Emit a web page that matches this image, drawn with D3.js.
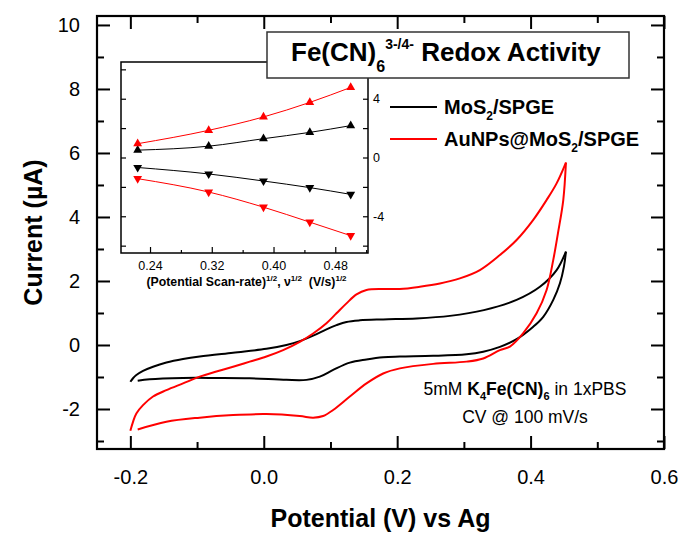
<!DOCTYPE html>
<html>
<head>
<meta charset="utf-8">
<script src="https://cdn.jsdelivr.net/npm/d3@7"></script>
<style>
  body { margin: 0; background: #fff; }
  text { font-family: "Liberation Sans", Arial, sans-serif; }
</style>
</head>
<body>
<svg id="cvChart" width="680" height="534"></svg>
<script>
// CV loops, [potential V, current uA]
const mosForward = [[-0.200,-1.15],[-0.196,-1.04],[-0.191,-0.94],[-0.181,-0.81],[-0.166,-0.68],[-0.146,-0.55],[-0.121,-0.44],[-0.096,-0.36],[-0.046,-0.24],[0.004,-0.12],[0.034,0.0],[0.054,0.12],[0.074,0.29],[0.094,0.49],[0.109,0.62],[0.124,0.72],[0.144,0.77],[0.179,0.80],[0.229,0.83],[0.279,0.91],[0.330,1.09],[0.379,1.41],[0.414,1.82],[0.439,2.34],[0.453,2.92]];
const mosReverse = [[0.453,2.92],[0.450,2.45],[0.444,1.93],[0.434,1.41],[0.419,0.88],[0.404,0.57],[0.379,0.18],[0.354,-0.06],[0.329,-0.21],[0.304,-0.29],[0.254,-0.34],[0.204,-0.36],[0.179,-0.38],[0.154,-0.45],[0.129,-0.55],[0.104,-0.78],[0.084,-0.99],[0.064,-1.09],[0.034,-1.09],[-0.021,-1.04],[-0.071,-1.03],[-0.121,-1.03],[-0.171,-1.07],[-0.189,-1.12]];
const auForward = [[-0.200,-2.68],[-0.196,-2.40],[-0.191,-2.14],[-0.181,-1.88],[-0.166,-1.61],[-0.146,-1.41],[-0.121,-1.20],[-0.096,-0.99],[-0.071,-0.83],[-0.046,-0.68],[-0.021,-0.52],[0.004,-0.36],[0.029,-0.16],[0.054,0.10],[0.074,0.36],[0.094,0.68],[0.109,0.99],[0.124,1.30],[0.139,1.58],[0.154,1.72],[0.179,1.75],[0.204,1.75],[0.234,1.82],[0.264,1.92],[0.294,2.08],[0.324,2.34],[0.354,2.81],[0.379,3.28],[0.404,3.91],[0.424,4.53],[0.439,5.05],[0.453,5.70]];
const auReverse = [[0.453,5.70],[0.449,4.53],[0.441,3.49],[0.434,2.66],[0.424,1.72],[0.409,0.99],[0.389,0.37],[0.369,-0.05],[0.354,-0.16],[0.329,-0.42],[0.304,-0.52],[0.254,-0.59],[0.204,-0.73],[0.179,-0.89],[0.154,-1.20],[0.129,-1.61],[0.104,-2.03],[0.089,-2.22],[0.074,-2.27],[0.054,-2.22],[0.004,-2.16],[-0.046,-2.19],[-0.096,-2.27],[-0.146,-2.40],[-0.189,-2.64]];

// inset: peak current vs sqrt(scan rate)
const sqrtScanRate = [0.224, 0.316, 0.387, 0.447, 0.500];
const mosAnodic = [0.50, 0.77, 1.28, 1.71, 2.17];
const mosCathodic = [-0.68, -1.12, -1.60, -2.05, -2.51];
const auAnodic = [0.94, 1.85, 2.76, 3.75, 4.77];
const auCathodic = [-1.44, -2.35, -3.38, -4.40, -5.32];

const xMajor = [-0.2, 0.0, 0.2, 0.4, 0.6];
const xMinor = [-0.1, 0.1, 0.3, 0.5];
const yMajor = [-2, 0, 2, 4, 6, 8, 10];
const yMinor = [-3, -1, 1, 3, 5, 7, 9];
const insetXMajor = [0.24, 0.32, 0.40, 0.48];
const insetXMinor = [0.28, 0.36, 0.44, 0.52];
const insetYMajor = [-4, 0, 4];
const insetYMinor = [-6, -2, 2, 6];

const svg = d3.select("svg#cvChart");
const box = { left: 97, right: 664, top: 16, bottom: 449 };

// plain hyphen for negatives, like the original
const fmt = d3.formatLocale({ decimal: ".", thousands: ",", grouping: [3], currency: ["", ""], minus: "-" }).format;

const x = d3.scaleLinear().domain([-0.25, 0.6]).range([box.left, box.right]);
const y = d3.scaleLinear().domain([-3.25, 10.28]).range([box.bottom, box.top]);

// all ticks point inward, Origin style
function tickAxis(axisFn, scale, values, size, withLabels, f) {
  let ax = axisFn(scale).tickValues(values).tickSize(-size).tickSizeOuter(0);
  if (!withLabels) ax = ax.tickFormat("");
  else if (f) ax = ax.tickFormat(f);
  return ax;
}

function styleAxis(g, width) {
  g.select(".domain").remove();
  g.selectAll("line").attr("stroke", "#000").attr("stroke-width", width);
}

let g;
g = svg.append("g").attr("transform", `translate(0,${box.bottom})`)
  .call(tickAxis(d3.axisBottom, x, xMajor, 13, true, fmt(".1f")).tickPadding(21));
styleAxis(g, 2);
g.selectAll("text").style("font-size", "20px").attr("fill", "#000");
g = svg.append("g").attr("transform", `translate(0,${box.bottom})`)
  .call(tickAxis(d3.axisBottom, x, xMinor, 7, false));
styleAxis(g, 2);
g = svg.append("g").attr("transform", `translate(0,${box.top})`)
  .call(tickAxis(d3.axisTop, x, xMajor, 13, false));
styleAxis(g, 2);
g = svg.append("g").attr("transform", `translate(0,${box.top})`)
  .call(tickAxis(d3.axisTop, x, xMinor, 7, false));
styleAxis(g, 2);

g = svg.append("g").attr("transform", `translate(${box.left},0)`)
  .call(tickAxis(d3.axisLeft, y, yMajor, 13, true, fmt("d")).tickPadding(17));
styleAxis(g, 2);
g.selectAll("text").style("font-size", "20px").attr("fill", "#000");
g = svg.append("g").attr("transform", `translate(${box.left},0)`)
  .call(tickAxis(d3.axisLeft, y, yMinor, 7, false));
styleAxis(g, 2);
g = svg.append("g").attr("transform", `translate(${box.right},0)`)
  .call(tickAxis(d3.axisRight, y, yMajor, 13, false));
styleAxis(g, 2);
g = svg.append("g").attr("transform", `translate(${box.right},0)`)
  .call(tickAxis(d3.axisRight, y, yMinor, 7, false));
styleAxis(g, 2);

svg.append("rect")
  .attr("x", box.left).attr("y", box.top)
  .attr("width", box.right - box.left).attr("height", box.bottom - box.top)
  .attr("fill", "none").attr("stroke", "#000").attr("stroke-width", 2.2);

// CV curves
const cvLine = d3.line().x(d => x(d[0])).y(d => y(d[1])).curve(d3.curveCatmullRom.alpha(0.5));
[[mosForward, "#000"], [mosReverse, "#000"], [auForward, "#ff0000"], [auReverse, "#ff0000"]]
  .forEach(([pts, col]) => {
    svg.append("path").attr("d", cvLine(pts))
      .attr("fill", "none").attr("stroke", col).attr("stroke-width", 2)
      .attr("stroke-linejoin", "miter");
  });

// axis titles
svg.append("text")
  .attr("x", (box.left + box.right) / 2).attr("y", 527)
  .attr("text-anchor", "middle")
  .style("font-size", "25px").style("font-weight", "bold")
  .text("Potential (V) vs Ag");
svg.append("text")
  .attr("transform", `translate(42,${(box.top + box.bottom) / 2}) rotate(-90)`)
  .attr("text-anchor", "middle")
  .style("font-size", "25px").style("font-weight", "bold")
  .text("Current (\u00b5A)");

// inset
const ibox = { left: 121, right: 368, top: 62, bottom: 253 };
const ix = d3.scaleLinear().domain([0.2024, 0.5224]).range([ibox.left, ibox.right]);
const iy = d3.scaleLinear().domain([-6.5, 6.5]).range([ibox.bottom, ibox.top]);
const inset = svg.append("g").attr("id", "inset");

inset.append("rect")
  .attr("x", ibox.left).attr("y", ibox.top)
  .attr("width", ibox.right - ibox.left).attr("height", ibox.bottom - ibox.top)
  .attr("fill", "#fff");

g = inset.append("g").attr("transform", `translate(0,${ibox.bottom})`)
  .call(tickAxis(d3.axisBottom, ix, insetXMajor, 6, true, fmt(".2f")).tickPadding(8));
styleAxis(g, 1.2);
g.selectAll("text").style("font-size", "12.5px").attr("fill", "#000");
g = inset.append("g").attr("transform", `translate(0,${ibox.bottom})`)
  .call(tickAxis(d3.axisBottom, ix, insetXMinor, 3, false));
styleAxis(g, 1.2);

g = inset.append("g").attr("transform", `translate(${ibox.right},0)`)
  .call(tickAxis(d3.axisRight, iy, insetYMajor, 5, true, fmt("d")).tickPadding(5));
styleAxis(g, 1.2);
g.selectAll("text").style("font-size", "12.5px").attr("fill", "#000");
g = inset.append("g").attr("transform", `translate(${ibox.right},0)`)
  .call(tickAxis(d3.axisRight, iy, insetYMinor, 5, false));
styleAxis(g, 1.2);
g = inset.append("g").attr("transform", `translate(${ibox.left},0)`)
  .call(tickAxis(d3.axisLeft, iy, insetYMajor.concat(insetYMinor), 5, false));
styleAxis(g, 1.2);

inset.append("rect")
  .attr("x", ibox.left).attr("y", ibox.top)
  .attr("width", ibox.right - ibox.left).attr("height", ibox.bottom - ibox.top)
  .attr("fill", "none").attr("stroke", "#000").attr("stroke-width", 1.5);

const insetLine = d3.line().x(d => ix(d[0])).y(d => iy(d[1])).curve(d3.curveMonotoneX);
const insetSeries = [
  { vals: mosAnodic, color: "#000", up: true },
  { vals: mosCathodic, color: "#000", up: false },
  { vals: auAnodic, color: "#ff0000", up: true },
  { vals: auCathodic, color: "#ff0000", up: false },
];
const tri = d3.symbol().type(d3.symbolTriangle).size(34);
insetSeries.forEach(s => {
  const pts = sqrtScanRate.map((v, i) => [v, s.vals[i]]);
  inset.append("path").attr("d", insetLine(pts))
    .attr("fill", "none").attr("stroke", s.color).attr("stroke-width", 1);
  inset.append("g").selectAll("path").data(pts).join("path")
    .attr("d", tri)
    .attr("transform", d => `translate(${ix(d[0])},${iy(d[1])}) rotate(${s.up ? 0 : 180})`)
    .attr("fill", s.color);
});

const ixLabel = inset.append("text")
  .attr("x", (ibox.left + ibox.right) / 2 + 2).attr("y", 286)
  .attr("text-anchor", "middle")
  .style("font-size", "12.3px").style("font-weight", "bold");
ixLabel.append("tspan").text("(Potential Scan-rate)");
ixLabel.append("tspan").attr("dy", -5).style("font-size", "8px").text("1/2");
ixLabel.append("tspan").attr("dy", 5).text(", \u03bd");
ixLabel.append("tspan").attr("dy", -5).style("font-size", "8px").text("1/2");
ixLabel.append("tspan").attr("dy", 5).text("\u00a0 (V/s)");
ixLabel.append("tspan").attr("dy", -5).style("font-size", "8px").text("1/2");

// title box
svg.append("rect")
  .attr("x", 267).attr("y", 32).attr("width", 362).attr("height", 46)
  .attr("fill", "#fff").attr("stroke", "#333").attr("stroke-width", 1.5);
const title = svg.append("text")
  .attr("x", 291).attr("y", 61)
  .style("font-size", "26px").style("font-weight", "bold");
title.append("tspan").text("Fe(CN)");
title.append("tspan").attr("dy", 11).style("font-size", "16px").text("6");
title.append("tspan").attr("dy", -23).style("font-size", "14px").text("3-/4-");
title.append("tspan").attr("dy", 12).text(" Redox Activity");

// legend
const legendRows = [
  { color: "#000", parts: ["MoS", "2", "/SPGE"], yy: 107 },
  { color: "#ff0000", parts: ["AuNPs@MoS", "2", "/SPGE"], yy: 139 },
];
legendRows.forEach(r => {
  svg.append("line")
    .attr("x1", 390).attr("x2", 437).attr("y1", r.yy).attr("y2", r.yy)
    .attr("stroke", r.color).attr("stroke-width", 2);
  const t = svg.append("text").attr("x", 444).attr("y", r.yy + 7)
    .style("font-size", "20px").style("font-weight", "bold");
  t.append("tspan").text(r.parts[0]);
  t.append("tspan").attr("dy", 6).style("font-size", "12px").text(r.parts[1]);
  t.append("tspan").attr("dy", -6).text(r.parts[2]);
});

// experimental note
const note = svg.append("text").attr("x", 525).attr("y", 395)
  .attr("text-anchor", "middle").style("font-size", "17.5px");
note.append("tspan").text("5mM ");
note.append("tspan").style("font-weight", "bold").text("K");
note.append("tspan").attr("dy", 5).style("font-weight", "bold").style("font-size", "11px").text("4");
note.append("tspan").attr("dy", -5).style("font-weight", "bold").text("Fe(CN)");
note.append("tspan").attr("dy", 5).style("font-weight", "bold").style("font-size", "11px").text("6");
note.append("tspan").attr("dy", -5).text(" in 1xPBS");
svg.append("text").attr("x", 525).attr("y", 423)
  .attr("text-anchor", "middle").style("font-size", "17.5px")
  .text("CV @ 100 mV/s");
</script>
</body>
</html>
